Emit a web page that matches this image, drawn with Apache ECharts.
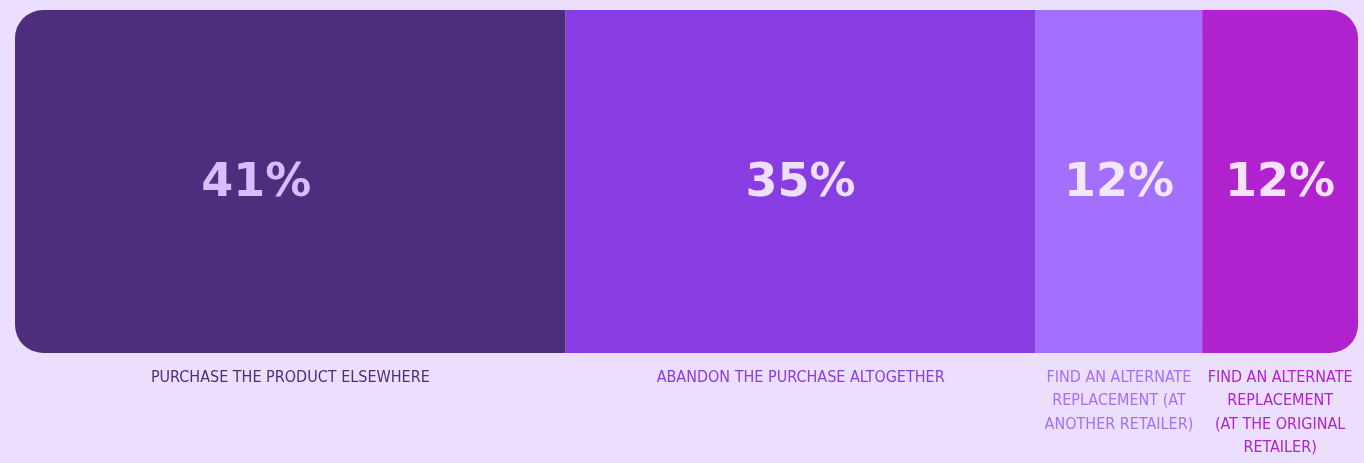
<!DOCTYPE html>
<html>
<head>
<meta charset="utf-8">
<script src="https://cdn.jsdelivr.net/npm/echarts@6/dist/echarts.min.js"></script>
<style>
html,body{margin:0;padding:0;background:#ECDFFE;}
#chart{width:1364px;height:463px;}
</style>
</head>
<body>
<div id="chart"></div>
<script>
const categories = [
  'PURCHASE THE PRODUCT ELSEWHERE',
  'ABANDON THE PURCHASE ALTOGETHER',
  'FIND AN ALTERNATE\nREPLACEMENT (AT\nANOTHER RETAILER)',
  'FIND AN ALTERNATE\nREPLACEMENT\n(AT THE ORIGINAL\nRETAILER)'
];
const values = [41, 35, 12.4, 11.6];
const barColors = ['#4E2D7C', '#873DE2', '#A370FE', '#AF22CE'];
const pctColors = ['#D8BCFF', '#EEDFFF', '#F3E6FF', '#F6E2FB'];
const nameColors = ['#4E2D7C', '#873DE2', '#A370FE', '#AF22CE'];

const radius = 28;
const series = [];
values.forEach((v, i) => {
  const br = i === 0 ? [radius, 0, 0, radius] : (i === values.length - 1 ? [0, radius, radius, 0] : 0);
  series.push({
    type: 'bar', stack: 'main', data: [v], barWidth: '100%', barGap: '-100%',
    itemStyle: { color: barColors[i], borderRadius: br },
    label: {
      show: true, position: 'inside',
      formatter: () => Math.round(v) + '%',
      color: pctColors[i], fontFamily: 'DejaVu Sans', fontWeight: 'bold', fontSize: 46,
      offset: i === 0 ? [-34, 3] : [0, 3]
    },
    silent: true
  });
});
values.forEach((v, i) => {
  series.push({
    type: 'bar', stack: 'names', data: [v], barWidth: '100%', barGap: '-100%',
    itemStyle: { color: 'rgba(0,0,0,0)' },
    label: {
      show: true, position: 'bottom', distance: 13,
      formatter: categories[i],
      color: nameColors[i], fontFamily: 'DejaVu Sans Condensed', fontSize: 16,
      lineHeight: 23.5, align: 'center', verticalAlign: 'top'
    },
    silent: true
  });
});

const chart = echarts.init(document.getElementById('chart'));
chart.setOption({
  backgroundColor: '#ECDFFE',
  animation: false,
  grid: { left: 15, right: 6, top: 10, bottom: 110, containLabel: false },
  xAxis: { type: 'value', min: 0, max: 100, show: false },
  yAxis: { type: 'category', data: ['share'], show: false },
  series: series
});
</script>
</body>
</html>
